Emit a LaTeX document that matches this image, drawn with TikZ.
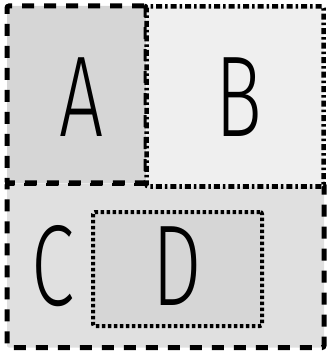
\documentclass[tikz,border=0pt]{standalone}
\usepackage{fontspec}
\newfontfamily\lf[FakeStretch=0.68]{Fira Sans Light}
\definecolor{fillA}{HTML}{D6D6D6}
\definecolor{fillB}{HTML}{EFEFEF}
\definecolor{fillC}{HTML}{E0E0E0}
\definecolor{fillD}{HTML}{D6D6D6}
\tikzset{
  region/.style={draw=black, rounded corners=2pt, inner sep=0pt, outer sep=0pt},
  dashbox/.style={region, line width=5pt, dash pattern=on 12pt off 10pt},
  dashdotbox/.style={region, line width=4.5pt, dash pattern=on 6pt off 3pt on 2.5pt off 3pt},
  dotbox/.style={region, line width=4pt, dash pattern=on 3.5pt off 2.5pt},
  letter/.style={inner sep=0pt, anchor=base, font=\lf\fontsize{115}{115}\selectfont}
}
\begin{document}
\begin{tikzpicture}[x=1pt,y=-1pt]
\useasboundingbox (0,0) rectangle (326,352);
\node[dashbox, fill=fillC, minimum width=317pt, minimum height=164pt] (C) at (165.5,265.5) {};
\node[dotbox, fill=fillD, minimum width=169pt, minimum height=114pt] (D) at (177.5,269) {};
\node[dashbox, fill=fillA, minimum width=139pt, minimum height=177pt] (A) at (76.5,94.5) {};
\node[dashdotbox, fill=fillB, minimum width=177pt, minimum height=180pt] (B) at (235,96.5) {};
\node[letter] (tA) at (82,137) {A};
\node[letter] (tB) at (239,137) {B};
\node[letter] (tC) at (53,305) {C};
\node[letter] (tD) at (177,305) {D};
\end{tikzpicture}
\end{document}
